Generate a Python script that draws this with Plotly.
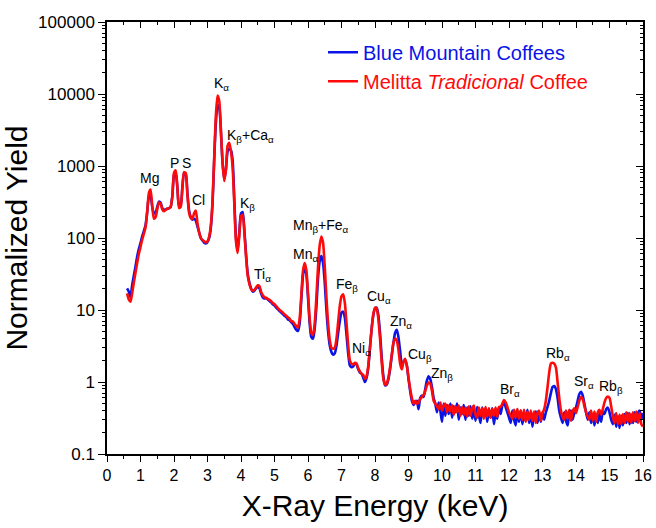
import numpy as np
import plotly.graph_objects as go

# X-ray energy channels (keV), 0.05 keV spacing from 0.60 to 16.00
energy = np.round(np.arange(0.60, 16.0001, 0.05), 2)

blue_mountain = [
    20, 18, 15, 22, 30, 40, 55, 70, 85, 105,
    125, 150, 230, 370, 390, 270, 220, 225, 270, 320,
    310, 260, 245, 250, 255, 260, 270, 380, 750, 820,
    500, 280, 290, 500, 800, 780, 420, 240, 195, 180,
    185, 175, 145, 120, 100, 92, 86, 84, 88, 100,
    140, 300, 1200, 4000, 7000, 6500, 3000, 1100, 650, 900,
    1600, 1750, 1650, 1200, 350, 100, 68, 120, 220, 230,
    130, 60, 32, 24, 20, 18, 18.5, 20, 21, 20,
    17, 15, 14.5, 14.5, 14, 13.3, 12.8, 12.0, 11.5, 10.8,
    10.2, 9.7, 9.2, 8.8, 8.3, 8.0, 7.4, 7.2, 6.8, 6.4,
    5.8, 5.3, 5.1, 6.5, 14, 30, 40, 32, 15, 6.5,
    4.2, 4.0, 5.5, 11, 28, 48, 56, 45, 24, 10,
    5.0, 3.2, 2.6, 2.4, 2.5, 3.2, 4.8, 7.0, 9.2, 9.5,
    7.8, 4.5, 2.5, 1.7, 1.6, 1.65, 1.8, 1.75, 1.5, 1.35,
    1.3, 1.15, 1.0, 1.15, 1.6, 3.0, 5.5, 8.5, 10.5, 10.8,
    8.5, 4.8, 2.2, 1.2, 0.9, 0.92, 1.1, 1.5, 2.3, 3.5,
    4.8, 5.3, 4.2, 2.7, 1.8, 1.9, 2.0, 1.7, 1.1, 0.75,
    0.55, 0.48, 0.52, 0.55, 0.42, 0.6, 0.65, 0.62, 0.8, 1.05,
    1.2, 1.1, 0.85, 0.6, 0.5, 0.38, 0.52, 0.4, 0.28, 0.5,
    0.34, 0.48, 0.36, 0.5, 0.32, 0.46, 0.38, 0.5, 0.3, 0.44,
    0.36, 0.48, 0.3, 0.44, 0.34, 0.46, 0.31, 0.42, 0.29, 0.45,
    0.35, 0.27, 0.44, 0.33, 0.43, 0.28, 0.41, 0.32, 0.43, 0.26,
    0.38, 0.31, 0.44, 0.36, 0.47, 0.52, 0.45, 0.38, 0.32, 0.27,
    0.4, 0.3, 0.25, 0.39, 0.28, 0.4, 0.26, 0.37, 0.29, 0.41,
    0.27, 0.37, 0.24, 0.36, 0.39, 0.27, 0.37, 0.28, 0.38, 0.3,
    0.38, 0.45, 0.55, 0.7, 0.85, 0.88, 0.8, 0.6, 0.4, 0.32,
    0.27, 0.38, 0.29, 0.25, 0.37, 0.4, 0.3, 0.38, 0.44, 0.55,
    0.68, 0.73, 0.65, 0.5, 0.38, 0.3, 0.38, 0.27, 0.36, 0.25,
    0.35, 0.27, 0.37, 0.28, 0.38, 0.36, 0.42, 0.44, 0.38, 0.3,
    0.26, 0.35, 0.24, 0.33, 0.23, 0.34, 0.25, 0.36, 0.27, 0.37,
    0.26, 0.35, 0.27, 0.38, 0.28, 0.37, 0.4, 0.3, 0.37,
]

melitta = [
    17, 14, 13, 17, 24, 33, 45, 60, 75, 95,
    115, 140, 230, 420, 470, 280, 185, 195, 250, 310,
    300, 250, 235, 245, 255, 258, 270, 380, 800, 870,
    520, 260, 270, 500, 820, 800, 400, 225, 190, 185,
    220, 240, 160, 120, 100, 94, 90, 87, 90, 105,
    150, 330, 1300, 5000, 9500, 8000, 3200, 1100, 620, 900,
    1900, 2100, 1600, 950, 300, 90, 62, 110, 200, 210,
    120, 55, 30, 23, 19.5, 18.5, 19, 20.5, 22, 21.5,
    18, 16, 15, 14.8, 14.2, 13.8, 13.2, 12.5, 12, 11.3,
    10.6, 10.0, 9.6, 9.2, 8.7, 8.3, 7.9, 7.6, 7.0, 6.9,
    6.4, 6.0, 5.7, 7.5, 16, 35, 45, 36, 17, 7.5,
    4.8, 4.5, 6.5, 15, 40, 80, 105, 85, 40, 15,
    6.5, 3.8, 3.0, 2.9, 3.0, 4.0, 6.8, 11.5, 15.5, 16.5,
    12.5, 6.5, 3.2, 2.0, 1.8, 1.75, 1.85, 1.8, 1.55, 1.4,
    1.3, 1.25, 1.1, 1.2, 1.7, 3.0, 5.5, 8.8, 10.8, 10.5,
    7.5, 4.0, 1.9, 1.1, 0.92, 0.95, 1.15, 1.6, 2.4, 3.5,
    4.0, 3.8, 2.8, 1.8, 1.5, 1.9, 2.1, 1.7, 1.15, 0.8,
    0.6, 0.5, 0.55, 0.5, 0.52, 0.58, 0.62, 0.66, 0.75, 0.9,
    0.98, 0.95, 0.75, 0.55, 0.5, 0.46, 0.42, 0.52, 0.4, 0.47,
    0.5, 0.38, 0.47, 0.39, 0.48, 0.35, 0.46, 0.38, 0.47, 0.34,
    0.45, 0.35, 0.44, 0.33, 0.46, 0.34, 0.43, 0.47, 0.35, 0.32,
    0.44, 0.34, 0.43, 0.31, 0.45, 0.33, 0.43, 0.32, 0.42, 0.34,
    0.44, 0.33, 0.45, 0.45, 0.5, 0.56, 0.52, 0.45, 0.38, 0.34,
    0.31, 0.41, 0.32, 0.42, 0.31, 0.4, 0.3, 0.41, 0.28, 0.39,
    0.3, 0.4, 0.29, 0.39, 0.27, 0.37, 0.4, 0.29, 0.37, 0.42,
    0.55, 0.85, 1.35, 1.8, 1.85, 1.8, 1.6, 1.0, 0.6, 0.4,
    0.33, 0.3, 0.4, 0.31, 0.41, 0.29, 0.39, 0.43, 0.37, 0.45,
    0.55, 0.62, 0.58, 0.46, 0.38, 0.33, 0.3, 0.4, 0.29, 0.39,
    0.28, 0.38, 0.41, 0.35, 0.42, 0.52, 0.6, 0.63, 0.6, 0.46,
    0.33, 0.27, 0.37, 0.26, 0.35, 0.26, 0.36, 0.27, 0.38, 0.28,
    0.37, 0.27, 0.38, 0.29, 0.39, 0.27, 0.37, 0.26, 0.24,
]

assert len(blue_mountain) == len(energy) == len(melitta)

# Peak labels: (text, energy keV, log10 yield)
peak_labels = ["Mg", "P", "S", "Cl", "K<sub>α</sub>", "K<sub>β</sub>+Ca<sub>α</sub>",
               "K<sub>β</sub>", "Ti<sub>α</sub>", "Mn<sub>α</sub>", "Mn<sub>β</sub>+Fe<sub>α</sub>",
               "Fe<sub>β</sub>", "Ni<sub>α</sub>", "Cu<sub>α</sub>", "Zn<sub>α</sub>",
               "Cu<sub>β</sub>", "Zn<sub>β</sub>", "Br<sub>α</sub>", "Rb<sub>α</sub>",
               "Sr<sub>α</sub>", "Rb<sub>β</sub>"]
label_energy = [1.26, 2.0, 2.38, 2.72, 3.41, 4.28, 4.19, 4.64, 5.92, 6.40,
                7.15, 7.60, 8.13, 8.79, 9.33, 9.99, 12.02, 13.46, 14.23, 15.04]
label_logy = [2.83, 3.04, 3.04, 2.53, 4.14, 3.42, 2.47, 1.49, 1.76, 2.17,
              1.35, 0.46, 1.18, 0.83, 0.38, 0.11, -0.11, 0.39, 0.0, -0.07]

ytick_vals = [0.1, 1, 10, 100, 1000, 10000, 100000]
ytick_text = ["0.1", "1", "10", "100", "1000", "10000", "100000"]

FONT = "Liberation Sans, Arial, sans-serif"
BLUE = "#0a14e6"
RED = "#ff0a0a"

fig = go.Figure()
fig.add_trace(go.Scatter(
    x=energy, y=blue_mountain, mode="lines",
    line=dict(color=BLUE, width=2.6, shape="spline", smoothing=0.6),
    name='<span style="color:%s">Blue Mountain Coffees</span>' % BLUE,
))
fig.add_trace(go.Scatter(
    x=energy, y=melitta, mode="lines",
    line=dict(color=RED, width=2.6, shape="spline", smoothing=0.6),
    name='<span style="color:%s">Melitta <i>Tradicional</i> Coffee</span>' % RED,
))
# empty trace to activate the mirrored (top/right) axes
fig.add_trace(go.Scatter(x=[], y=[], xaxis="x2", yaxis="y2", showlegend=False, hoverinfo="skip"))

for txt, ex, ly in zip(peak_labels, label_energy, label_logy):
    fig.add_annotation(x=ex, y=ly, text=txt, showarrow=False,
                       font=dict(family=FONT, size=14, color="black"),
                       xanchor="center", yanchor="middle")

axis_common = dict(showline=True, linecolor="black", linewidth=1.5, showgrid=False,
                   zeroline=False)

fig.update_layout(
    width=656, height=528,
    margin=dict(l=107, r=13, t=22, b=74),
    paper_bgcolor="white", plot_bgcolor="white",
    font=dict(family=FONT, color="black"),
    xaxis=dict(
        **axis_common, range=[0, 16], dtick=1, tick0=0,
        ticks="outside", ticklen=6, tickwidth=1.3, tickcolor="black",
        minor=dict(dtick=0.5, tick0=0, ticks="outside", ticklen=3, tickwidth=1.3, tickcolor="black"),
        tickfont=dict(size=16, family=FONT),
        title=dict(text="X-Ray Energy (keV)", font=dict(size=30, family=FONT), standoff=12),
        automargin=False,
    ),
    yaxis=dict(
        **axis_common, type="log", range=[-1, 5],
        tickmode="array", tickvals=ytick_vals, ticktext=ytick_text,
        ticks="outside", ticklen=7, tickwidth=1.3, tickcolor="black",
        minor=dict(dtick="D1", ticks="outside", ticklen=3.5, tickwidth=1, tickcolor="black"),
        tickfont=dict(size=17, family=FONT),
        title=dict(text="Normalized Yield", font=dict(size=30, family=FONT), standoff=8),
        automargin=False,
    ),
    xaxis2=dict(
        **axis_common, overlaying="x", side="top", anchor="y2", range=[0, 16], dtick=1, tick0=0,
        ticks="inside", ticklen=6, tickwidth=1.3, tickcolor="black", showticklabels=False,
        minor=dict(dtick=0.5, tick0=0, ticks="inside", ticklen=3, tickwidth=1.3, tickcolor="black"),
    ),
    yaxis2=dict(
        **axis_common, overlaying="y", side="right", anchor="x2", type="log", range=[-1, 5],
        tickmode="array", tickvals=ytick_vals, showticklabels=False,
        ticks="inside", ticklen=7, tickwidth=1.3, tickcolor="black",
        minor=dict(dtick="D1", ticks="inside", ticklen=3.5, tickwidth=1, tickcolor="black"),
    ),
    legend=dict(x=0.403, y=0.975, xanchor="left", yanchor="top",
                font=dict(size=20, family=FONT), bgcolor="rgba(0,0,0,0)",
                itemwidth=30, tracegroupgap=0),
    showlegend=True,
)

fig.write_html("out.html")
